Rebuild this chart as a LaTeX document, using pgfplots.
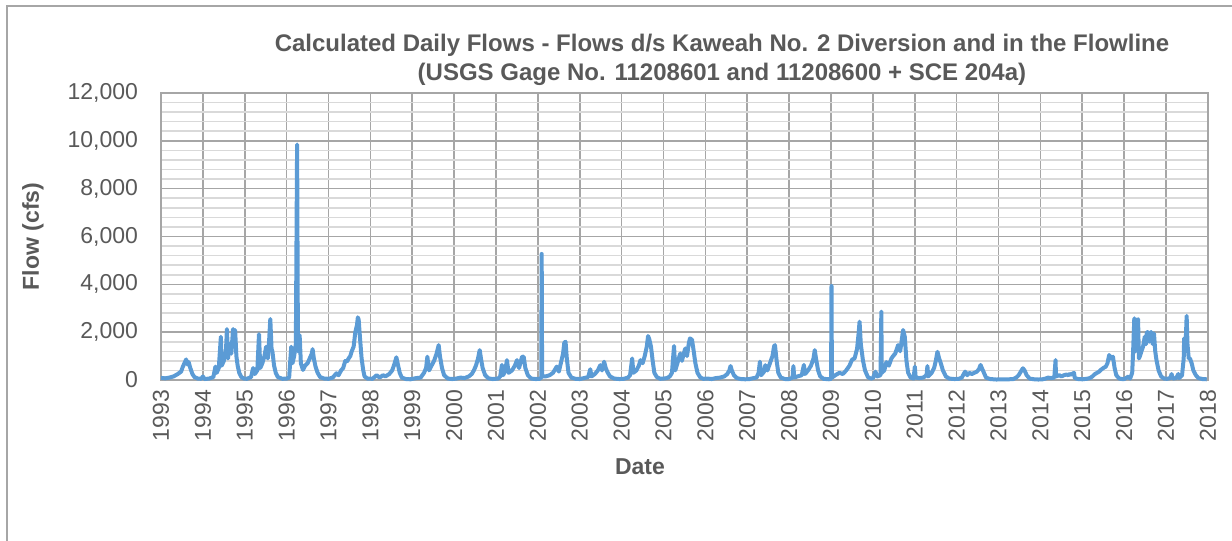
\documentclass[border=0pt]{standalone}
\usepackage{fontspec}
\setmainfont{Liberation Sans}
\usepackage{pgfplots}
\pgfplotsset{compat=1.18}
\definecolor{flowblue}{HTML}{5B9BD5}
\definecolor{txtgray}{HTML}{595959}
\definecolor{majgrid}{HTML}{A6A6A6}
\definecolor{mingrid}{HTML}{D9D9D9}
\begin{document}
\begin{tikzpicture}
\begin{axis}[
  at={(0,0)}, anchor=south west,
  scale only axis, width=523.5pt, height=143.5pt,
  xmin=1993, xmax=2018, ymin=0, ymax=12000,
  xtick={1993,1994,...,2018},
  ytick={0,2000,...,12000},
  minor y tick num=4,
  grid=both,
  major grid style={majgrid, line width=0.8pt},
  minor grid style={mingrid, line width=0.8pt},
  axis line style={majgrid, line width=0.8pt},
  major tick length=0pt, minor tick length=0pt,
  scaled y ticks=false,
  clip=false,
  tick label style={font=\fontsize{11.5}{13}\selectfont, text=txtgray},
  xticklabel style={rotate=90, anchor=east, xshift=-1.5pt, /pgf/number format/.cd, 1000 sep={}, assume math mode=true},
  yticklabel style={xshift=-8pt, /pgf/number format/.cd, 1000 sep={,}, assume math mode=true},
  ylabel={Flow (cfs)},
  every axis y label/.style={at={(axis description cs:-0.1223,0.5)}, rotate=90, anchor=center, font=\bfseries\fontsize{11.5}{13}\selectfont, text=txtgray},
  xlabel={Date},
  every axis x label/.style={at={(axis description cs:0.4575,-0.303)}, anchor=center, font=\bfseries\fontsize{11.5}{13}\selectfont, text=txtgray},
  title={Calculated Daily Flows - Flows d/s Kaweah No. 2 Diversion and in the Flowline\\(USGS Gage No. 11208601 and 11208600 + SCE 204a)},
  every axis title/.style={at={(axis description cs:0.5358,1.1167)}, anchor=center, align=center, font=\bfseries\fontsize{12}{14.5}\selectfont, text=txtgray},
]
\addplot[flowblue, line width=2pt, line join=round] table {
1993.00 90
1993.10 70
1993.20 100
1993.30 150
1993.40 250
1993.48 350
1993.52 550
1993.56 700
1993.60 860
1993.63 650
1993.66 750
1993.70 500
1993.75 250
1993.80 120
1993.88 60
1993.96 50
1994.00 150
1994.04 40
1994.15 60
1994.25 120
1994.30 560
1994.33 300
1994.38 500
1994.43 1810
1994.45 600
1994.50 800
1994.55 1200
1994.575 2130
1994.60 900
1994.64 1500
1994.68 1100
1994.72 2130
1994.74 1400
1994.77 2090
1994.80 1000
1994.83 600
1994.87 290
1994.92 120
1994.98 60
1995.05 50
1995.15 120
1995.20 500
1995.24 250
1995.30 400
1995.34 1920
1995.37 500
1995.42 700
1995.47 1000
1995.51 1390
1995.55 900
1995.58 1600
1995.61 2550
1995.64 1300
1995.66 1200
1995.70 600
1995.74 300
1995.79 120
1995.90 50
1996.00 60
1996.06 100
1996.09 900
1996.11 1390
1996.14 700
1996.18 1000
1996.22 1500
1996.25 9850
1996.27 1200
1996.31 1880
1996.34 700
1996.39 420
1996.44 600
1996.50 700
1996.55 900
1996.60 1100
1996.62 1290
1996.65 900
1996.69 560
1996.74 300
1996.80 120
1996.90 60
1997.00 50
1997.10 100
1997.19 280
1997.24 200
1997.30 400
1997.35 500
1997.40 800
1997.44 770
1997.48 900
1997.52 1000
1997.55 1180
1997.60 1400
1997.64 2000
1997.68 2300
1997.70 2620
1997.72 2520
1997.75 1800
1997.79 900
1997.83 400
1997.86 150
1997.93 60
1998.05 50
1998.15 200
1998.22 100
1998.30 200
1998.36 150
1998.45 250
1998.52 400
1998.58 700
1998.62 950
1998.65 700
1998.70 300
1998.75 100
1998.85 40
1998.95 30
1999.10 80
1999.20 100
1999.28 300
1999.33 500
1999.36 975
1999.40 400
1999.46 600
1999.52 800
1999.58 1100
1999.63 1460
1999.66 1000
1999.71 500
1999.76 200
1999.85 60
1999.95 40
2000.05 60
2000.15 100
2000.25 80
2000.35 150
2000.42 250
2000.47 400
2000.52 600
2000.57 900
2000.61 1250
2000.64 900
2000.68 500
2000.74 200
2000.82 70
2000.92 40
2001.05 60
2001.10 150
2001.14 630
2001.17 200
2001.22 400
2001.26 830
2001.30 300
2001.38 400
2001.45 600
2001.50 830
2001.55 500
2001.62 970
2001.66 975
2001.70 500
2001.76 200
2001.84 60
2001.95 40
2002.04 50
2002.08 100
2002.09 5270
2002.10 150
2002.18 150
2002.28 200
2002.36 300
2002.45 560
2002.50 350
2002.56 800
2002.60 1100
2002.63 1560
2002.66 1600
2002.69 900
2002.73 300
2002.80 100
2002.90 50
2003.00 40
2003.10 80
2003.20 120
2003.25 450
2003.28 150
2003.36 250
2003.43 400
2003.49 620
2003.53 400
2003.58 765
2003.62 500
2003.66 330
2003.72 150
2003.82 60
2003.95 40
2004.05 50
2004.15 100
2004.20 200
2004.25 900
2004.28 300
2004.35 400
2004.41 600
2004.45 830
2004.50 700
2004.55 1000
2004.60 1400
2004.63 1840
2004.66 1700
2004.70 1390
2004.74 800
2004.78 300
2004.84 120
2004.92 50
2005.00 60
2005.08 80
2005.15 150
2005.20 300
2005.25 1420
2005.28 400
2005.33 700
2005.38 1000
2005.40 1110
2005.44 800
2005.48 1100
2005.52 1320
2005.56 1000
2005.60 1500
2005.63 1740
2005.68 1680
2005.72 1200
2005.76 700
2005.81 300
2005.88 100
2005.95 50
2006.05 60
2006.15 40
2006.25 80
2006.35 100
2006.45 150
2006.52 250
2006.57 400
2006.60 585
2006.63 400
2006.68 200
2006.75 80
2006.85 40
2006.95 30
2007.05 40
2007.15 80
2007.22 100
2007.27 300
2007.30 765
2007.33 200
2007.40 350
2007.43 620
2007.48 400
2007.54 700
2007.60 1000
2007.64 1420
2007.66 1460
2007.70 800
2007.74 300
2007.80 100
2007.90 40
2008.00 40
2008.08 100
2008.10 585
2008.12 100
2008.20 150
2008.30 200
2008.35 630
2008.38 250
2008.45 400
2008.52 600
2008.58 900
2008.61 1250
2008.64 900
2008.69 400
2008.74 150
2008.82 50
2008.95 30
2009.00 50
2009.01 3930
2009.02 100
2009.10 200
2009.20 300
2009.28 250
2009.36 400
2009.44 600
2009.50 850
2009.56 900
2009.62 1300
2009.66 2000
2009.68 2440
2009.71 1500
2009.76 830
2009.81 400
2009.88 120
2009.95 60
2010.00 80
2010.06 350
2010.10 150
2010.18 200
2010.20 2860
2010.21 300
2010.27 400
2010.32 750
2010.38 600
2010.44 900
2010.48 1000
2010.53 1100
2010.57 1300
2010.60 1460
2010.65 1200
2010.69 1700
2010.72 2090
2010.76 1810
2010.80 800
2010.84 300
2010.90 100
2010.97 60
2011.00 560
2011.02 100
2011.10 80
2011.20 100
2011.28 200
2011.30 585
2011.32 150
2011.40 300
2011.46 500
2011.50 800
2011.54 1180
2011.58 900
2011.62 700
2011.67 400
2011.74 150
2011.82 60
2011.95 40
2012.05 50
2012.12 100
2012.20 350
2012.25 200
2012.30 300
2012.36 250
2012.42 300
2012.48 350
2012.53 450
2012.57 630
2012.60 500
2012.65 300
2012.70 100
2012.80 40
2012.95 20
2013.10 30
2013.25 30
2013.35 40
2013.42 100
2013.48 200
2013.53 350
2013.58 490
2013.62 400
2013.67 200
2013.74 60
2013.85 30
2013.95 20
2014.05 30
2014.12 60
2014.18 100
2014.25 80
2014.33 100
2014.36 835
2014.37 150
2014.45 200
2014.50 150
2014.56 200
2014.62 230
2014.66 200
2014.70 250
2014.74 220
2014.77 270
2014.80 300
2014.82 80
2014.90 40
2015.00 30
2015.10 50
2015.18 80
2015.24 150
2015.30 250
2015.35 300
2015.40 350
2015.44 420
2015.50 500
2015.56 560
2015.60 700
2015.64 1045
2015.68 900
2015.73 975
2015.77 500
2015.81 200
2015.88 60
2015.95 40
2016.00 40
2016.06 100
2016.10 150
2016.14 60
2016.19 300
2016.21 1110
2016.24 2580
2016.27 1200
2016.30 2500
2016.33 2540
2016.35 900
2016.37 975
2016.41 1200
2016.45 1400
2016.49 1810
2016.52 1500
2016.54 2000
2016.57 2000
2016.60 1600
2016.63 2000
2016.65 2000
2016.68 1500
2016.71 1950
2016.74 1200
2016.77 830
2016.82 400
2016.88 150
2016.95 60
2017.02 50
2017.10 80
2017.13 250
2017.16 60
2017.24 80
2017.29 250
2017.31 80
2017.38 200
2017.42 900
2017.43 1740
2017.46 1200
2017.49 2680
2017.51 1500
2017.54 900
2017.57 900
2017.61 700
2017.65 400
2017.71 200
2017.77 80
2017.87 40
2017.97 30
};
\end{axis}
\pgfresetboundingbox
\useasboundingbox (-80.5pt,-80.5pt) rectangle (535.5pt,190pt);
\draw[majgrid, line width=0.6pt] (-77pt,-80.5pt) -- (-77pt,187pt) -- (535.5pt,187pt);
\end{tikzpicture}
\end{document}
